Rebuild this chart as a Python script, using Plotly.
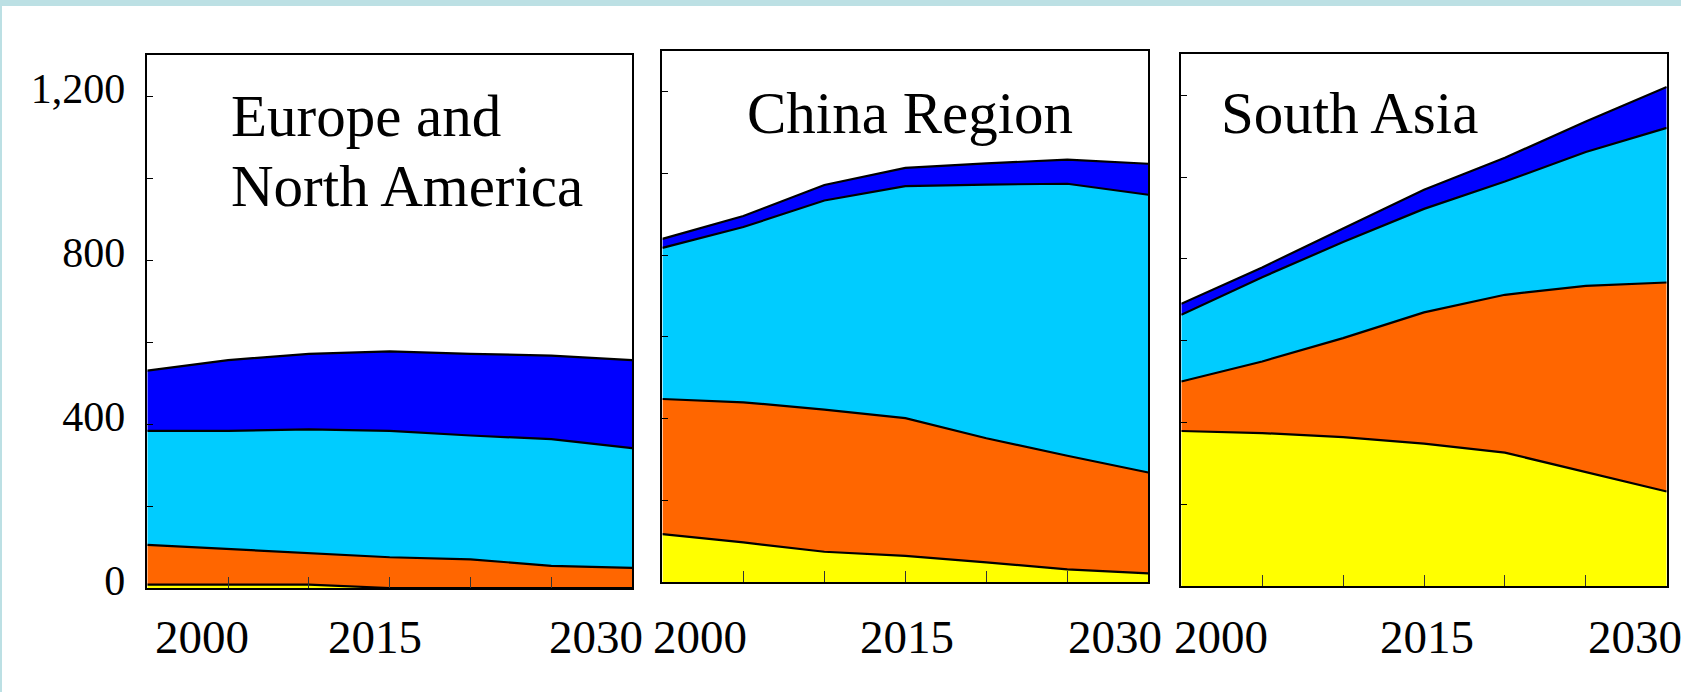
import plotly.graph_objects as go

# Years on the horizontal axis (one point every five years)
years = [2000, 2005, 2010, 2015, 2020, 2025, 2030]
x_tick_labels = ["2000", "2015", "2030"]
y_tick_values = [0, 200, 400, 600, 800, 1000, 1200]
y_tick_labels = ["0", "", "400", "", "800", "", "1,200"]

region_names = ["Europe and North America", "China Region", "South Asia"]

# Stacked layers per region, bottom to top
europe_yellow = [8, 8, 8, 0, 0, 0, 0]
europe_orange = [97, 87, 77, 75, 70, 54, 49]
europe_cyan = [278, 288, 302, 308, 302, 309, 292]
europe_blue = [147, 173, 184, 194, 199, 204, 215]

china_yellow = [117, 97, 74, 64, 48, 31, 21]
china_orange = [331, 343, 348, 337, 304, 278, 247]
china_cyan = [370, 429, 512, 568, 621, 666, 680]
china_blue = [22, 27, 38, 45, 52, 59, 76]

southasia_yellow = [379, 374, 364, 348, 326, 278, 231]
southasia_orange = [121, 175, 242, 321, 386, 456, 511]
southasia_cyan = [163, 206, 235, 253, 277, 327, 378]
southasia_blue = [27, 24, 33, 47, 58, 75, 100]

layer_colors = ["#FFFF00", "#FF6600", "#00CCFF", "#0000FF"]

regions = [
    [europe_yellow, europe_orange, europe_cyan, europe_blue],
    [china_yellow, china_orange, china_cyan, china_blue],
    [southasia_yellow, southasia_orange, southasia_cyan, southasia_blue],
]

W, H = 1681, 692
FONT = "Liberation Serif, Times New Roman, serif"

# Panel boxes in pixels: (left, right, top, bottom)
boxes = [
    (147.3, 632.1, 55.0, 588.0),
    (662.4, 1148.3, 51.0, 582.0),
    (1181.3, 1666.7, 54.3, 586.0),
]

fig = go.Figure()

for i, (layers, box) in enumerate(zip(regions, boxes)):
    n = "" if i == 0 else str(i + 1)
    for vals, col in zip(layers, layer_colors):
        fig.add_trace(go.Scatter(
            x=years, y=vals, mode="lines",
            stackgroup=f"region{i}",
            line=dict(color="black", width=2.2),
            fillcolor=col,
            xaxis="x" + n, yaxis="y" + n,
            hoverinfo="skip", showlegend=False,
        ))

    left, right, top, bottom = box
    xdom = [left / W, right / W]
    ydom = [(H - bottom) / H, (H - top) / H]
    fig.layout["xaxis" + n] = dict(
        domain=xdom, range=[2000, 2030], anchor="y" + n,
        tickmode="array", tickvals=years, showticklabels=False,
        ticks="inside", ticklen=11, tickwidth=1, tickcolor="#333",
        showline=True, linecolor="black", linewidth=1.5, mirror=True,
        showgrid=False, zeroline=False, fixedrange=True,
    )
    fig.layout["yaxis" + n] = dict(
        domain=ydom, range=[0, 1300], anchor="x" + n,
        tickmode="array", tickvals=y_tick_values, ticktext=y_tick_labels,
        showticklabels=(i == 0),
        ticks="inside", ticklen=6, tickwidth=1, tickcolor="black",
        ticklabelstandoff=12, ticklabelshift=-8,
        tickfont=dict(family=FONT, size=42, color="black"),
        showline=True, linecolor="black", linewidth=1.5, mirror=True,
        showgrid=False, zeroline=False, fixedrange=True,
    )

# Year labels under each panel
label_fracs = [
    [0.112, 0.469, 0.926],
    [0.078, 0.504, 0.932],
    [0.081, 0.506, 0.935],
]
for i, fracs in enumerate(label_fracs):
    n = "" if i == 0 else str(i + 1)
    for txt, fx in zip(x_tick_labels, fracs):
        fig.add_annotation(
            text=txt, xref=f"x{n} domain", x=fx, xanchor="center",
            yref="paper", y=(H - 637) / H, yanchor="middle",
            showarrow=False,
            font=dict(family=FONT, size=47, color="black"),
        )

# Region titles inside the panels
title_font = dict(family=FONT, size=59, color="black")
fig.add_annotation(text="Europe and", xref="x domain", x=0.169, xanchor="left",
                   yref="y domain", y=0.8856, yanchor="middle",
                   showarrow=False, font=title_font)
fig.add_annotation(text="North America", xref="x domain", x=0.169, xanchor="left",
                   yref="y domain", y=0.7533, yanchor="middle",
                   showarrow=False, font=title_font)
fig.add_annotation(text=region_names[1], xref="x2 domain", x=0.5096, xanchor="center",
                   yref="y2 domain", y=0.8827, yanchor="middle",
                   showarrow=False, font=title_font)
fig.add_annotation(text=region_names[2], xref="x3 domain", x=0.078, xanchor="left",
                   yref="y3 domain", y=0.889, yanchor="middle",
                   showarrow=False, font=title_font)

# Thin frame strips along the top and left edges of the page
fig.add_shape(type="rect", xref="paper", yref="paper",
              x0=0, x1=1, y0=(H - 6) / H, y1=1,
              fillcolor="#BCE0E4", line=dict(width=0), layer="above")
fig.add_shape(type="rect", xref="paper", yref="paper",
              x0=0, x1=2 / W, y0=0, y1=1,
              fillcolor="#BCE0E4", line=dict(width=0), layer="above")

fig.update_layout(
    width=W, height=H,
    margin=dict(l=0, r=0, t=0, b=0, pad=0, autoexpand=False),
    paper_bgcolor="white", plot_bgcolor="white",
    showlegend=False,
    font=dict(family=FONT, color="black"),
)

fig.write_html("out.html", config={"displayModeBar": False})
